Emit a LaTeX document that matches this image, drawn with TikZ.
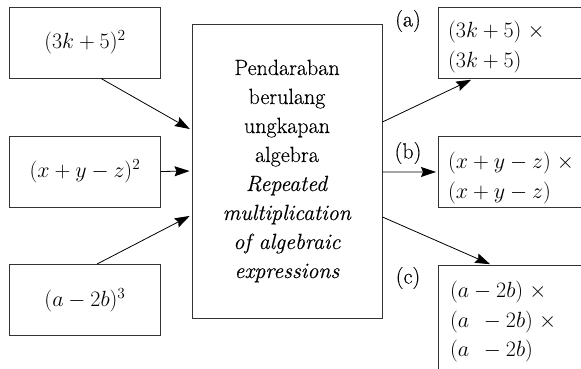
\documentclass[tikz,border=0pt]{standalone}
\usepackage{fix-cm}
\usepackage{fontspec}
\setmainfont{Latin Modern Roman}[FakeBold=0.3]
\usetikzlibrary{positioning,calc,arrows.meta}
\tikzset{
	inbox/.style={draw=black!80,line width=0.9pt,minimum width=151pt,minimum height=71pt,inner sep=0pt,font=\fontsize{22}{29}\selectfont},
	midbox/.style={draw=black!80,line width=0.9pt,minimum width=190pt,minimum height=294pt,inner sep=0pt,align=center,font=\fontsize{22}{29}\selectfont},
	outbox/.style={draw=black!80,line width=0.9pt,minimum width=200pt,anchor=north west,inner sep=0pt},
	outtext/.style={align=left,inner sep=0pt,font=\fontsize{22}{29.5}\selectfont},
	caselabel/.style={inner sep=0pt,font=\fontsize{22}{25}\selectfont},
	diredge/.style={-{Stealth[length=15pt,width=10pt,inset=2pt]},line width=0.8pt,shorten >=2pt}
}
\begin{document}
\begin{tikzpicture}[x=1pt,y=-1pt]
	\clip (0,0) rectangle (581,369);
	
	% left column
	\node[inbox] (L1) at (85,42.5) {$(3k+5)^2$};
	\node[inbox] (L2) at (85,171.5) {$(x+y-z)^2$};
	\node[inbox] (L3) at (85,300) {$(a-2b)^3$};
	
	% middle
	\node[midbox] (M) at (287,171) {Pendaraban\\berulang\\ungkapan\\algebra\\\textit{Repeated}\\\textit{multiplication}\\\textit{of algebraic}\\\textit{expressions}};
	
	% right column
	\node[outbox,minimum height=71pt] (OA) at (438,7) {};
	\node[outbox,minimum height=71pt] (OB) at (438,136) {};
	\node[outbox,minimum height=130pt] (OC) at (438,265) {};
	\node[outtext,below right=14pt and 10pt of OA.north west] (TA) {$(3k+5)\;\times$\\$(3k+5)$};
	\node[outtext,below right=16pt and 10pt of OB.north west] (TB) {$(x+y-z)\;\times$\\$(x+y-z)$};
	\node[outtext,below right=16pt and 12pt of OC.north west] (TC) {$(a-2b)\;\times$\\$(a\;\,-2b)\;\times$\\$(a\;\,-2b)$};
	\node[caselabel] (CA) at ($(OA.north west)+(-30,14)$) {(a)};
	\node[caselabel] (CB) at ($(OB.north west)+(-30,17)$) {(b)};
	\node[caselabel] (CC) at ($(OC.north west)+(-30,13)$) {(c)};
	
	% arrows in
	\draw[diredge] ($(L1.south)+(16,0)$) -- ($(M.west)+(0,-41)$);
	\draw[diredge] (L2.east) -- (M.west);
	\draw[diredge] ($(L3.north)+(12,0)$) -- ($(M.west)+(0,44)$);
	% arrows out
	\draw[diredge] ($(M.east)+(0,-49)$) -- ($(OA.south west)+(35,0)$);
	\draw[diredge] ($(M.east)+(0,1)$) -- (OB.west);
	\draw[diredge] ($(M.east)+(0,46)$) -- ($(OC.north west)+(54,0)$);
\end{tikzpicture}
\end{document}
